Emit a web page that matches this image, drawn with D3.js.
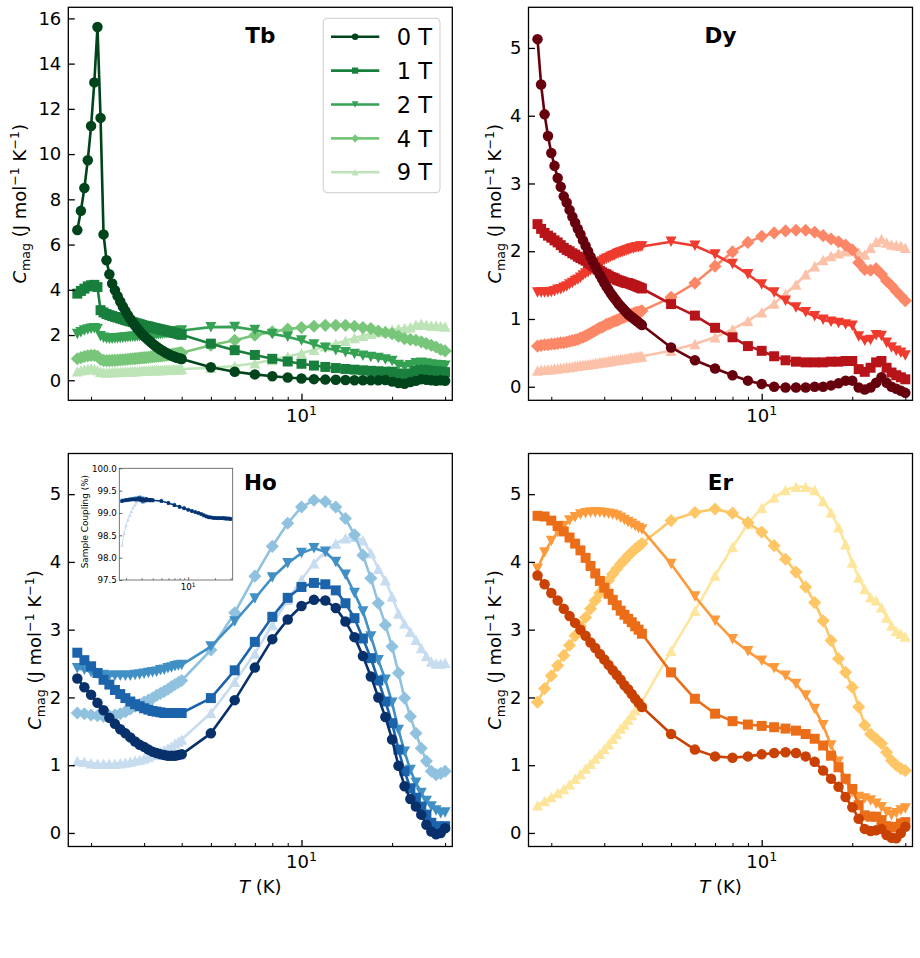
<!DOCTYPE html>
<html>
<head>
<meta charset="utf-8">
<script src="https://cdn.jsdelivr.net/npm/d3@7"></script>
<style>
  body { margin: 0; background: #fff; }
  svg text { font-family: 'DejaVu Sans', sans-serif; fill: #000; }
</style>
</head>
<body>
<div id="chart"></div>
<script>
var svgWidth = 920;
var svgHeight = 958;

// temperature grids (K): Tb and Dy were measured in 0.05 K steps below 4 K, Ho and Er in 0.1 K steps
var tempsFine = [1.80, 1.85, 1.90, 1.95, 2.00, 2.05, 2.10, 2.15, 2.20, 2.25, 2.30, 2.35, 2.40, 2.45, 2.50,
  2.55, 2.60, 2.65, 2.70, 2.75, 2.80, 2.85, 2.90, 2.95, 3.00, 3.05, 3.10, 3.15, 3.20, 3.25, 3.30, 3.35, 3.40,
  3.45, 3.50, 3.55, 3.60, 3.65, 3.70, 3.75, 3.80, 3.85, 3.90, 3.95, 4.00,
  5, 6, 7, 8, 9, 10, 11, 12, 13, 14, 15, 16, 17, 18, 19, 20, 21, 22, 23, 24, 25, 26, 27, 28, 29, 30];
var tempsCoarse = [1.8, 1.9, 2.0, 2.1, 2.2, 2.3, 2.4, 2.5, 2.6, 2.7, 2.8, 2.9, 3.0, 3.1, 3.2, 3.3, 3.4, 3.5,
  3.6, 3.7, 3.8, 3.9, 4.0,
  5, 6, 7, 8, 9, 10, 11, 12, 13, 14, 15, 16, 17, 18, 19, 20, 21, 22, 23, 24, 25, 26, 27, 28, 29, 30];

var fieldLabels = ['0 T', '1 T', '2 T', '4 T', '9 T'];

// Tb, C_mag (J mol-1 K-1) on tempsFine
var tb0T = [6.64, 7.49, 8.50, 9.73, 11.24, 13.17, 15.62, 11.60, 6.45, 5.31, 4.69, 4.28, 3.98, 3.72, 3.48, 3.26,
  3.06, 2.88, 2.71, 2.56, 2.42, 2.29, 2.17, 2.06, 1.96, 1.87, 1.78, 1.70, 1.62, 1.55, 1.48, 1.42, 1.36, 1.31,
  1.26, 1.21, 1.17, 1.13, 1.09, 1.06, 1.03, 1.00, 0.98, 0.96, 0.94,
  0.58, 0.38, 0.26, 0.18, 0.12, 0.08, 0.05, 0.03, 0.02, 0.01, 0.00, 0.00, 0.00, 0.00, 0.01, -0.05, -0.12,
  -0.15, -0.08, -0.02, 0.05, 0.02, 0.00, -0.02, 0.00, -0.02];
var tb1T = [3.83, 3.95, 4.05, 4.15, 4.20, 4.22, 4.12, 3.10, 3.00, 2.93, 2.88, 2.84, 2.80, 2.77, 2.73, 2.70,
  2.66, 2.63, 2.60, 2.57, 2.54, 2.51, 2.48, 2.45, 2.42, 2.40, 2.38, 2.36, 2.33, 2.31, 2.29, 2.27, 2.25, 2.23,
  2.21, 2.19, 2.17, 2.15, 2.13, 2.11, 2.09, 2.07, 2.05, 2.03, 2.01,
  1.62, 1.33, 1.12, 0.95, 0.83, 0.73, 0.65, 0.59, 0.54, 0.50, 0.47, 0.44, 0.42, 0.40, 0.38, 0.38, 0.30,
  0.26, 0.30, 0.42, 0.48, 0.45, 0.42, 0.40, 0.38, 0.36];
var tb2T = [2.05, 2.12, 2.20, 2.25, 2.28, 2.30, 2.27, 1.95, 1.88, 1.85, 1.84, 1.84, 1.85, 1.86, 1.87, 1.88,
  1.89, 1.90, 1.91, 1.92, 1.93, 1.94, 1.95, 1.96, 1.97, 1.98, 1.99, 2.00, 2.01, 2.02, 2.03, 2.04, 2.05, 2.06,
  2.07, 2.08, 2.09, 2.10, 2.11, 2.12, 2.14, 2.15, 2.17, 2.18, 2.20,
  2.35, 2.36, 2.22, 2.05, 1.93, 1.76, 1.58, 1.44, 1.33, 1.24, 1.16, 1.09, 1.03, 0.98, 0.92, 0.85, 0.68,
  0.60, 0.66, 0.75, 0.78, 0.74, 0.70, 0.68, 0.66, 0.64];
var tb4T = [0.95, 1.00, 1.05, 1.08, 1.10, 1.10, 1.06, 0.92, 0.88, 0.87, 0.87, 0.88, 0.88, 0.89, 0.90, 0.91,
  0.92, 0.93, 0.94, 0.95, 0.96, 0.97, 0.98, 0.99, 1.00, 1.01, 1.02, 1.03, 1.04, 1.05, 1.06, 1.07, 1.08, 1.09,
  1.10, 1.11, 1.12, 1.13, 1.14, 1.16, 1.17, 1.18, 1.19, 1.21, 1.22,
  1.55, 1.77, 1.99, 2.14, 2.26, 2.33, 2.39, 2.43, 2.43, 2.43, 2.39, 2.33, 2.29, 2.18, 2.11, 2.06, 1.95,
  1.84, 1.80, 1.77, 1.70, 1.62, 1.55, 1.47, 1.36, 1.30];
var tb9T = [0.40, 0.44, 0.48, 0.50, 0.52, 0.50, 0.46, 0.38, 0.36, 0.36, 0.36, 0.37, 0.37, 0.37, 0.38, 0.38,
  0.39, 0.39, 0.40, 0.40, 0.41, 0.41, 0.42, 0.42, 0.43, 0.43, 0.44, 0.44, 0.45, 0.45, 0.45, 0.46, 0.46, 0.46,
  0.47, 0.47, 0.47, 0.48, 0.48, 0.48, 0.49, 0.49, 0.49, 0.50, 0.50,
  0.55, 0.63, 0.75, 0.90, 1.05, 1.20, 1.35, 1.50, 1.62, 1.75, 1.87, 1.97, 2.06, 2.13, 2.20, 2.25, 2.28,
  2.30, 2.35, 2.45, 2.50, 2.45, 2.42, 2.42, 2.40, 2.38];

// Dy on tempsFine
var dy0T = [5.13, 4.46, 4.02, 3.70, 3.45, 3.26, 3.08, 2.95, 2.81, 2.72, 2.61, 2.51, 2.42, 2.33, 2.25, 2.16,
  2.08, 2.00, 1.92, 1.85, 1.78, 1.71, 1.65, 1.59, 1.53, 1.48, 1.43, 1.38, 1.34, 1.30, 1.26, 1.22, 1.19, 1.16,
  1.13, 1.10, 1.07, 1.05, 1.03, 1.01, 0.99, 0.97, 0.95, 0.93, 0.91,
  0.58, 0.39, 0.27, 0.17, 0.09, 0.04, 0.00, -0.01, -0.01, -0.01, 0.00, 0.00, 0.02, 0.05, 0.09, 0.09, -0.01,
  -0.04, -0.01, 0.06, 0.14, 0.06, 0.00, -0.03, -0.06, -0.09];
var dy1T = [2.40, 2.33, 2.27, 2.23, 2.20, 2.16, 2.13, 2.09, 2.05, 2.02, 2.00, 1.97, 1.95, 1.92, 1.90, 1.88,
  1.86, 1.83, 1.81, 1.78, 1.76, 1.73, 1.71, 1.69, 1.67, 1.66, 1.64, 1.62, 1.61, 1.60, 1.58, 1.57, 1.56, 1.55,
  1.54, 1.53, 1.53, 1.52, 1.51, 1.50, 1.49, 1.48, 1.47, 1.46, 1.45,
  1.22, 1.05, 0.87, 0.73, 0.60, 0.53, 0.45, 0.39, 0.37, 0.36, 0.36, 0.36, 0.37, 0.37, 0.38, 0.38, 0.26,
  0.22, 0.28, 0.36, 0.38, 0.28, 0.21, 0.17, 0.14, 0.11];
var dy2T = [1.39, 1.39, 1.39, 1.39, 1.40, 1.41, 1.43, 1.44, 1.46, 1.48, 1.51, 1.53, 1.56, 1.58, 1.61, 1.64,
  1.67, 1.69, 1.72, 1.75, 1.78, 1.80, 1.83, 1.85, 1.87, 1.89, 1.90, 1.92, 1.93, 1.94, 1.96, 1.97, 1.98, 1.99,
  2.00, 2.01, 2.02, 2.03, 2.04, 2.04, 2.05, 2.06, 2.06, 2.07, 2.07,
  2.14, 2.08, 1.95, 1.81, 1.66, 1.51, 1.39, 1.27, 1.17, 1.10, 1.04, 0.99, 0.96, 0.94, 0.92, 0.90, 0.74,
  0.68, 0.69, 0.76, 0.75, 0.65, 0.58, 0.53, 0.50, 0.46];
var dy4T = [0.60, 0.61, 0.62, 0.62, 0.63, 0.63, 0.64, 0.65, 0.65, 0.66, 0.67, 0.68, 0.69, 0.70, 0.72, 0.73,
  0.75, 0.77, 0.79, 0.81, 0.83, 0.85, 0.87, 0.88, 0.90, 0.92, 0.93, 0.94, 0.96, 0.97, 0.98, 0.99, 1.01, 1.02,
  1.03, 1.04, 1.05, 1.06, 1.07, 1.08, 1.09, 1.10, 1.10, 1.11, 1.12,
  1.32, 1.53, 1.78, 1.99, 2.13, 2.22, 2.27, 2.30, 2.31, 2.31, 2.28, 2.23, 2.18, 2.14, 2.09, 2.02, 1.83,
  1.73, 1.72, 1.74, 1.66, 1.56, 1.49, 1.41, 1.34, 1.27];
var dy9T = [0.24, 0.25, 0.25, 0.26, 0.26, 0.27, 0.27, 0.28, 0.28, 0.29, 0.29, 0.30, 0.31, 0.31, 0.32, 0.32,
  0.33, 0.33, 0.34, 0.34, 0.35, 0.35, 0.36, 0.36, 0.37, 0.37, 0.38, 0.38, 0.39, 0.39, 0.40, 0.40, 0.41, 0.41,
  0.41, 0.42, 0.42, 0.43, 0.43, 0.43, 0.44, 0.44, 0.45, 0.45, 0.45,
  0.53, 0.63, 0.73, 0.85, 0.97, 1.10, 1.23, 1.37, 1.51, 1.66, 1.78, 1.87, 1.93, 1.97, 2.00, 2.03, 1.98,
  1.95, 2.05, 2.14, 2.18, 2.13, 2.10, 2.09, 2.08, 2.05];

// Ho on tempsCoarse
var ho0T = [2.28, 2.15, 2.04, 1.92, 1.81, 1.70, 1.61, 1.53, 1.47, 1.41, 1.35, 1.30, 1.27, 1.23, 1.20, 1.18,
  1.16, 1.15, 1.14, 1.14, 1.14, 1.15, 1.16,
  1.47, 1.96, 2.44, 2.86, 3.15, 3.35, 3.44, 3.43, 3.32, 3.12, 2.89, 2.61, 2.31, 2.00, 1.71, 1.38, 0.99,
  0.69, 0.50, 0.39, 0.27, 0.12, 0.02, -0.02, 0.00, 0.07];
var ho1T = [2.66, 2.55, 2.46, 2.36, 2.26, 2.19, 2.11, 2.05, 1.99, 1.94, 1.90, 1.87, 1.84, 1.82, 1.80, 1.79,
  1.78, 1.77, 1.77, 1.77, 1.77, 1.77, 1.77,
  1.99, 2.40, 2.82, 3.19, 3.47, 3.63, 3.69, 3.67, 3.58, 3.39, 3.17, 2.87, 2.58, 2.25, 1.94, 1.62, 1.23,
  0.91, 0.66, 0.52, 0.39, 0.27, 0.15, 0.10, 0.09, 0.10];
var ho2T = [2.43, 2.41, 2.37, 2.35, 2.33, 2.32, 2.32, 2.32, 2.32, 2.32, 2.33, 2.34, 2.35, 2.36, 2.37, 2.38,
  2.40, 2.41, 2.43, 2.44, 2.46, 2.47, 2.48,
  2.75, 3.12, 3.46, 3.77, 3.98, 4.13, 4.20, 4.15, 4.00, 3.81, 3.54, 3.27, 2.90, 2.55, 2.26, 1.92, 1.52,
  1.20, 0.93, 0.74, 0.59, 0.47, 0.39, 0.33, 0.29, 0.30];
var ho4T = [1.77, 1.76, 1.74, 1.73, 1.72, 1.73, 1.74, 1.76, 1.79, 1.83, 1.87, 1.90, 1.93, 1.96, 1.99, 2.03,
  2.06, 2.09, 2.12, 2.16, 2.19, 2.22, 2.25,
  2.70, 3.25, 3.79, 4.23, 4.57, 4.81, 4.91, 4.89, 4.81, 4.64, 4.40, 4.10, 3.76, 3.39, 3.07, 2.75, 2.36,
  1.99, 1.72, 1.47, 1.25, 1.06, 0.91, 0.86, 0.88, 0.91];
var ho9T = [1.06, 1.05, 1.03, 1.02, 1.02, 1.02, 1.02, 1.03, 1.04, 1.05, 1.07, 1.08, 1.10, 1.12, 1.15, 1.17,
  1.20, 1.22, 1.25, 1.28, 1.32, 1.35, 1.38,
  1.77, 2.23, 2.65, 3.07, 3.44, 3.74, 3.98, 4.15, 4.27, 4.35, 4.37, 4.32, 4.13, 3.90, 3.73, 3.49, 3.24,
  3.09, 2.97, 2.85, 2.73, 2.61, 2.53, 2.50, 2.50, 2.51];

// Ho inset: sample coupling (%) on tempsCoarse
var hoCoupling0T = [99.27, 99.28, 99.29, 99.29, 99.30, 99.30, 99.31, 99.30, 99.31, 99.32, 99.30, 99.33, 99.28,
  99.31, 99.30, 99.27, 99.32, 99.29, 99.30, 99.28, 99.30, 99.29, 99.28,
  99.27, 99.22, 99.17, 99.14, 99.11, 99.07, 99.04, 99.02, 99.00, 98.98, 98.95, 98.92, 98.90, 98.90, 98.89,
  98.89, 98.88, 98.89, 98.88, 98.88, 98.89, 98.88, 98.87, 98.88, 98.87, 98.86];
var hoCoupling1T = [99.26, 99.28, 99.28, 99.30, 99.29, 99.31, 99.30, 99.32, 99.29, 99.31, 99.34, 99.28, 99.32,
  99.25, 99.31, 99.29, 99.30, 99.28, 99.29, 99.30, 99.28, 99.29, 99.28,
  99.26, 99.22, 99.18, 99.13, 99.10, 99.07, 99.05, 99.02, 99.00, 98.97, 98.94, 98.92, 98.91, 98.90, 98.89,
  98.88, 98.89, 98.88, 98.88, 98.89, 98.88, 98.87, 98.88, 98.87, 98.87, 98.87];
var hoCoupling2T = [99.28, 99.27, 99.29, 99.30, 99.31, 99.29, 99.32, 99.31, 99.33, 99.30, 99.35, 99.30, 99.27,
  99.33, 99.29, 99.31, 99.28, 99.30, 99.29, 99.29, 99.28, 99.30, 99.29,
  99.27, 99.23, 99.18, 99.14, 99.10, 99.06, 99.04, 99.01, 98.99, 98.97, 98.95, 98.93, 98.91, 98.90, 98.89,
  98.89, 98.88, 98.88, 98.89, 98.88, 98.88, 98.89, 98.88, 98.87, 98.88, 98.87];
var hoCoupling4T = [99.27, 99.29, 99.28, 99.29, 99.30, 99.32, 99.30, 99.33, 99.31, 99.34, 99.31, 99.36, 99.30,
  99.32, 99.30, 99.29, 99.30, 99.29, 99.28, 99.29, 99.29, 99.28, 99.29,
  99.28, 99.23, 99.19, 99.15, 99.11, 99.08, 99.05, 99.03, 99.00, 98.98, 98.96, 98.93, 98.92, 98.90, 98.90,
  98.89, 98.89, 98.88, 98.89, 98.89, 98.88, 98.88, 98.88, 98.87, 98.88, 98.88];
var hoCoupling9T = [98.28, 98.55, 98.72, 98.85, 98.95, 99.04, 99.12, 99.18, 99.23, 99.27, 99.30, 99.32, 99.33,
  99.32, 99.31, 99.30, 99.30, 99.29, 99.29, 99.28, 99.29, 99.28, 99.28,
  99.27, 99.23, 99.18, 99.14, 99.11, 99.08, 99.05, 99.02, 99.00, 98.98, 98.96, 98.93, 98.91, 98.90, 98.90,
  98.89, 98.89, 98.89, 98.88, 98.89, 98.89, 98.88, 98.88, 98.87, 98.88, 98.87];

// Er on tempsCoarse
var er0T = [3.80, 3.67, 3.54, 3.43, 3.31, 3.20, 3.10, 3.00, 2.91, 2.81, 2.73, 2.64, 2.56, 2.48, 2.40, 2.33,
  2.26, 2.18, 2.12, 2.05, 1.98, 1.92, 1.86,
  1.46, 1.23, 1.13, 1.11, 1.13, 1.16, 1.18, 1.19, 1.18, 1.13, 1.05, 0.92, 0.80, 0.68, 0.53, 0.38, 0.21,
  0.06, 0.03, 0.04, 0.06, -0.03, -0.07, -0.08, 0.00, 0.09];
var er1T = [4.68, 4.67, 4.61, 4.53, 4.45, 4.36, 4.27, 4.17, 4.06, 3.94, 3.83, 3.72, 3.62, 3.53, 3.44, 3.36,
  3.28, 3.22, 3.16, 3.11, 3.05, 3.00, 2.94,
  2.37, 1.98, 1.76, 1.65, 1.60, 1.58, 1.56, 1.54, 1.51, 1.46, 1.39, 1.29, 1.14, 0.97, 0.80, 0.65, 0.41,
  0.26, 0.24, 0.24, 0.19, 0.10, 0.08, 0.09, 0.14, 0.16];
var er2T = [3.90, 4.14, 4.31, 4.44, 4.53, 4.61, 4.66, 4.70, 4.72, 4.73, 4.73, 4.73, 4.72, 4.71, 4.70, 4.68,
  4.65, 4.62, 4.59, 4.56, 4.53, 4.50, 4.48,
  3.97, 3.49, 3.13, 2.86, 2.68, 2.54, 2.43, 2.32, 2.20, 2.03, 1.83, 1.59, 1.29, 1.05, 0.78, 0.60, 0.53,
  0.51, 0.48, 0.43, 0.38, 0.31, 0.26, 0.29, 0.33, 0.36];
var er4T = [1.93, 2.13, 2.32, 2.47, 2.62, 2.77, 2.91, 3.05, 3.18, 3.31, 3.43, 3.54, 3.63, 3.73, 3.82, 3.90,
  3.97, 4.03, 4.09, 4.14, 4.19, 4.23, 4.27,
  4.61, 4.73, 4.78, 4.72, 4.58, 4.44, 4.24, 4.04, 3.85, 3.63, 3.40, 3.13, 2.84, 2.57, 2.37, 2.15, 1.86,
  1.59, 1.46, 1.39, 1.32, 1.19, 1.07, 1.00, 0.95, 0.92];
var er9T = [0.41, 0.47, 0.53, 0.59, 0.65, 0.72, 0.80, 0.87, 0.95, 1.02, 1.10, 1.17, 1.24, 1.31, 1.39, 1.46,
  1.54, 1.60, 1.67, 1.74, 1.81, 1.87, 1.93,
  2.69, 3.28, 3.80, 4.22, 4.56, 4.80, 4.95, 5.06, 5.11, 5.11, 5.06, 4.90, 4.73, 4.51, 4.26, 3.99, 3.77,
  3.60, 3.48, 3.43, 3.33, 3.18, 3.06, 2.98, 2.94, 2.90];

// colours for 0, 1, 2, 4, 9 T
var greens = ['#00441b', '#187f3d', '#35a153', '#78c67a', '#bde4b6'];
var reds = ['#67000d', '#b71419', '#ee3b2d', '#fb8767', '#fcc2a9'];
var blues = ['#08306b', '#1b63ab', '#4090c5', '#90c2df', '#c8dcf0'];
var oranges = ['#c94203', '#eb6d17', '#fd9a3c', '#fec664', '#fee59c'];
var shapes = ['circle', 'square', 'tridown', 'diamond', 'triup'];

var xDomain = [1.68, 31.7];
var panelWidth = 384;
var panelHeight = 393;
var markerSize = 10.5;

var svg = d3
  .select('#chart')
  .append('svg')
  .attr('width', svgWidth)
  .attr('height', svgHeight);

// marker outline centred on 0,0; s is the nominal marker size in px
function markerPath(shape, s) {
  var h = s / 2;
  if (shape === 'circle') {
    return `M${h},0A${h},${h} 0 1,1 ${-h},0A${h},${h} 0 1,1 ${h},0Z`;
  } else if (shape === 'square') {
    h = h * 0.95;
    return `M${-h},${-h}H${h}V${h}H${-h}Z`;
  } else if (shape === 'diamond') {
    var d = h * 1.25;
    return `M0,${-d}L${d},0L0,${d}L${-d},0Z`;
  } else if (shape === 'tridown') {
    return `M0,${h}L${h * 1.05},${-h}L${-h * 1.05},${-h}Z`;
  }
  return `M0,${-h}L${h * 1.05},${h}L${-h * 1.05},${h}Z`;
}

function pairUp(temps, values) {
  return values
    .map((v, i) => [temps[i], v])
    .filter((d) => d[0] !== undefined && d[1] !== undefined);
}

// one main panel
function drawPanel(p) {
  var g = svg.append('g').attr('transform', `translate(${p.left}, ${p.top})`);

  var x = d3.scaleLog().domain(xDomain).range([0, panelWidth]);
  var y = d3.scaleLinear().domain(p.yDomain).range([panelHeight, 0]);

  var line = d3
    .line()
    .x((d) => x(d[0]))
    .y((d) => y(d[1]));

  // highest field first so that 0 T ends up on top
  for (var k = p.series.length - 1; k >= 0; k--) {
    var pts = pairUp(p.temps, p.series[k]);
    g.append('path')
      .datum(pts)
      .attr('d', line)
      .attr('fill', 'none')
      .attr('stroke', p.colors[k])
      .attr('stroke-width', 2.6)
      .attr('stroke-linejoin', 'round');
    g.append('g')
      .selectAll('path')
      .data(pts)
      .enter()
      .append('path')
      .attr('transform', (d) => `translate(${x(d[0])},${y(d[1])})`)
      .attr('d', markerPath(shapes[k], markerSize))
      .attr('fill', p.colors[k]);
  }

  // y axis, ticks pointing inward
  var leftAxis = d3
    .axisLeft(y)
    .tickValues(p.yTicks)
    .tickSizeInner(-6.5)
    .tickSizeOuter(0)
    .tickPadding(7)
    .tickFormat(d3.format('d'));
  var yAxis = g.append('g').call(leftAxis);
  yAxis.select('.domain').remove();
  yAxis.selectAll('line').attr('stroke', '#000').attr('stroke-width', 1.3);
  yAxis.selectAll('text').style('font-size', '18px').style('font-family', 'DejaVu Sans');

  // x axis: one major tick at 10, minor ticks elsewhere
  var bottomMajor = d3.axisBottom(x).tickValues([10]).tickSizeInner(-6.5).tickSizeOuter(0).tickFormat('');
  var bottomMinor = d3
    .axisBottom(x)
    .tickValues([2, 3, 4, 5, 6, 7, 8, 9, 20, 30])
    .tickSizeInner(-3.5)
    .tickSizeOuter(0)
    .tickFormat('');
  var xMajor = g.append('g').attr('transform', `translate(0, ${panelHeight})`).call(bottomMajor);
  var xMinor = g.append('g').attr('transform', `translate(0, ${panelHeight})`).call(bottomMinor);
  xMajor.select('.domain').remove();
  xMinor.select('.domain').remove();
  xMajor.selectAll('line').attr('stroke', '#000').attr('stroke-width', 1.3);
  xMinor.selectAll('line').attr('stroke', '#000').attr('stroke-width', 1);

  var tenLabel = g
    .append('text')
    .attr('x', x(10))
    .attr('y', panelHeight + 21.6)
    .attr('text-anchor', 'middle')
    .style('font-size', '18px');
  tenLabel.append('tspan').text('10');
  tenLabel.append('tspan').attr('dy', -7).style('font-size', '12.6px').text('1');

  // frame
  g.append('rect')
    .attr('width', panelWidth)
    .attr('height', panelHeight)
    .attr('fill', 'none')
    .attr('stroke', '#000')
    .attr('stroke-width', 1.3);

  // element name
  g.append('text')
    .attr('x', panelWidth / 2)
    .attr('y', 36)
    .attr('text-anchor', 'middle')
    .style('font-size', '21.5px')
    .style('font-weight', 'bold')
    .text(p.name);

  // y label
  var yl = g
    .append('text')
    .attr('transform', `translate(${-p.yLabelOffset}, ${panelHeight / 2}) rotate(-90)`)
    .attr('text-anchor', 'middle')
    .style('font-size', '18px');
  yl.append('tspan').style('font-style', 'italic').text('C');
  yl.append('tspan').attr('dy', 4).style('font-size', '12.6px').text('mag');
  yl.append('tspan').attr('dy', -4).text(' (J mol');
  yl.append('tspan').attr('dy', -7).style('font-size', '12.6px').text('\u22121');
  yl.append('tspan').attr('dy', 7).text(' K');
  yl.append('tspan').attr('dy', -7).style('font-size', '12.6px').text('\u22121');
  yl.append('tspan').attr('dy', 7).text(')');

  // x label only on bottom row
  if (p.xLabel) {
    var xl = g
      .append('text')
      .attr('x', panelWidth / 2)
      .attr('y', panelHeight + 46.6)
      .attr('text-anchor', 'middle')
      .style('font-size', '18px');
    xl.append('tspan').style('font-style', 'italic').text('T');
    xl.append('tspan').text(' (K)');
  }

  return g;
}

var panels = [
  { name: 'Tb', left: 68.3, top: 7.3, yDomain: [-0.885, 16.49], yTicks: [0, 2, 4, 6, 8, 10, 12, 14, 16],
    temps: tempsFine, series: [tb0T, tb1T, tb2T, tb4T, tb9T], colors: greens, yLabelOffset: 42.8, xLabel: false },
  { name: 'Dy', left: 528.5, top: 7.3, yDomain: [-0.2, 5.6], yTicks: [0, 1, 2, 3, 4, 5],
    temps: tempsFine, series: [dy0T, dy1T, dy2T, dy4T, dy9T], colors: reds, yLabelOffset: 27.5, xLabel: false },
  { name: 'Ho', left: 68.3, top: 453.5, yDomain: [-0.2, 5.6], yTicks: [0, 1, 2, 3, 4, 5],
    temps: tempsCoarse, series: [ho0T, ho1T, ho2T, ho4T, ho9T], colors: blues, yLabelOffset: 27.5, xLabel: true },
  { name: 'Er', left: 528.5, top: 453.5, yDomain: [-0.2, 5.6], yTicks: [0, 1, 2, 3, 4, 5],
    temps: tempsCoarse, series: [er0T, er1T, er2T, er4T, er9T], colors: oranges, yLabelOffset: 27.5, xLabel: true },
];

var panelGroups = panels.map(drawPanel);

// legend inside the Tb panel
var legend = panelGroups[0].append('g').attr('transform', 'translate(255, 11)');
legend
  .append('rect')
  .attr('width', 116.7)
  .attr('height', 174.4)
  .attr('rx', 4)
  .attr('fill', '#fff')
  .attr('fill-opacity', 0.8)
  .attr('stroke', '#cccccc')
  .attr('stroke-width', 1);
fieldLabels.forEach(function (label, k) {
  var cy = 18.4 + k * 33.9;
  legend
    .append('line')
    .attr('x1', 7.7)
    .attr('x2', 56)
    .attr('y1', cy)
    .attr('y2', cy)
    .attr('stroke', greens[k])
    .attr('stroke-width', 2.6);
  legend
    .append('path')
    .attr('transform', `translate(31.8, ${cy})`)
    .attr('d', markerPath(shapes[k], 6.5))
    .attr('fill', greens[k]);
  legend
    .append('text')
    .attr('x', 73.4)
    .attr('y', cy + 8.2)
    .style('font-size', '22.5px')
    .text(label);
});

// inset with the sample coupling, inside the Ho panel
var inset = { left: 119.3, top: 468.3, width: 113.4, height: 111.7 };
var insetSeries = [hoCoupling0T, hoCoupling1T, hoCoupling2T, hoCoupling4T, hoCoupling9T];
var ig = svg.append('g').attr('transform', `translate(${inset.left}, ${inset.top})`);
ig.append('rect').attr('width', inset.width).attr('height', inset.height).attr('fill', '#fff');

var ix = d3.scaleLog().domain(xDomain).range([0, inset.width]);
var iy = d3.scaleLinear().domain([97.5, 100]).range([inset.height, 0]);
var insetLine = d3
  .line()
  .x((d) => ix(d[0]))
  .y((d) => iy(d[1]));

for (var k = insetSeries.length - 1; k >= 0; k--) {
  var ipts = pairUp(tempsCoarse, insetSeries[k]);
  ig.append('path')
    .datum(ipts)
    .attr('d', insetLine)
    .attr('fill', 'none')
    .attr('stroke', blues[k])
    .attr('stroke-width', 1);
  ig.append('g')
    .selectAll('path')
    .data(ipts)
    .enter()
    .append('path')
    .attr('transform', (d) => `translate(${ix(d[0])},${iy(d[1])})`)
    .attr('d', markerPath(shapes[k], 3.4))
    .attr('fill', blues[k]);
}

var insetLeft = d3
  .axisLeft(iy)
  .tickValues([97.5, 98.0, 98.5, 99.0, 99.5, 100.0])
  .tickSizeInner(-3)
  .tickSizeOuter(0)
  .tickPadding(2.5)
  .tickFormat(d3.format('.1f'));
var iyAxis = ig.append('g').call(insetLeft);
iyAxis.select('.domain').remove();
iyAxis.selectAll('line').attr('stroke', '#222').attr('stroke-width', 0.7);
iyAxis.selectAll('text').style('font-size', '8.7px').style('font-family', 'DejaVu Sans').attr('fill', '#222');

var insetMajor = d3.axisBottom(ix).tickValues([10]).tickSizeInner(-3).tickSizeOuter(0).tickFormat('');
var insetMinor = d3
  .axisBottom(ix)
  .tickValues([2, 3, 4, 5, 6, 7, 8, 9, 20, 30])
  .tickSizeInner(-1.8)
  .tickSizeOuter(0)
  .tickFormat('');
[insetMajor, insetMinor].forEach(function (ax) {
  var a = ig.append('g').attr('transform', `translate(0, ${inset.height})`).call(ax);
  a.select('.domain').remove();
  a.selectAll('line').attr('stroke', '#222').attr('stroke-width', 0.6);
});
var insetTen = ig
  .append('text')
  .attr('x', ix(10))
  .attr('y', inset.height + 10.5)
  .attr('text-anchor', 'middle')
  .attr('fill', '#222')
  .style('font-size', '8.7px');
insetTen.append('tspan').text('10');
insetTen.append('tspan').attr('dy', -3.4).style('font-size', '6px').text('1');

ig.append('rect')
  .attr('width', inset.width)
  .attr('height', inset.height)
  .attr('fill', 'none')
  .attr('stroke', '#555')
  .attr('stroke-width', 0.8);

ig.append('text')
  .attr('transform', `translate(${-31.8}, ${inset.height / 2 - 2.5}) rotate(-90)`)
  .attr('text-anchor', 'middle')
  .attr('fill', '#222')
  .style('font-size', '8.9px')
  .text('Sample Coupling (%)');
</script>
</body>
</html>
